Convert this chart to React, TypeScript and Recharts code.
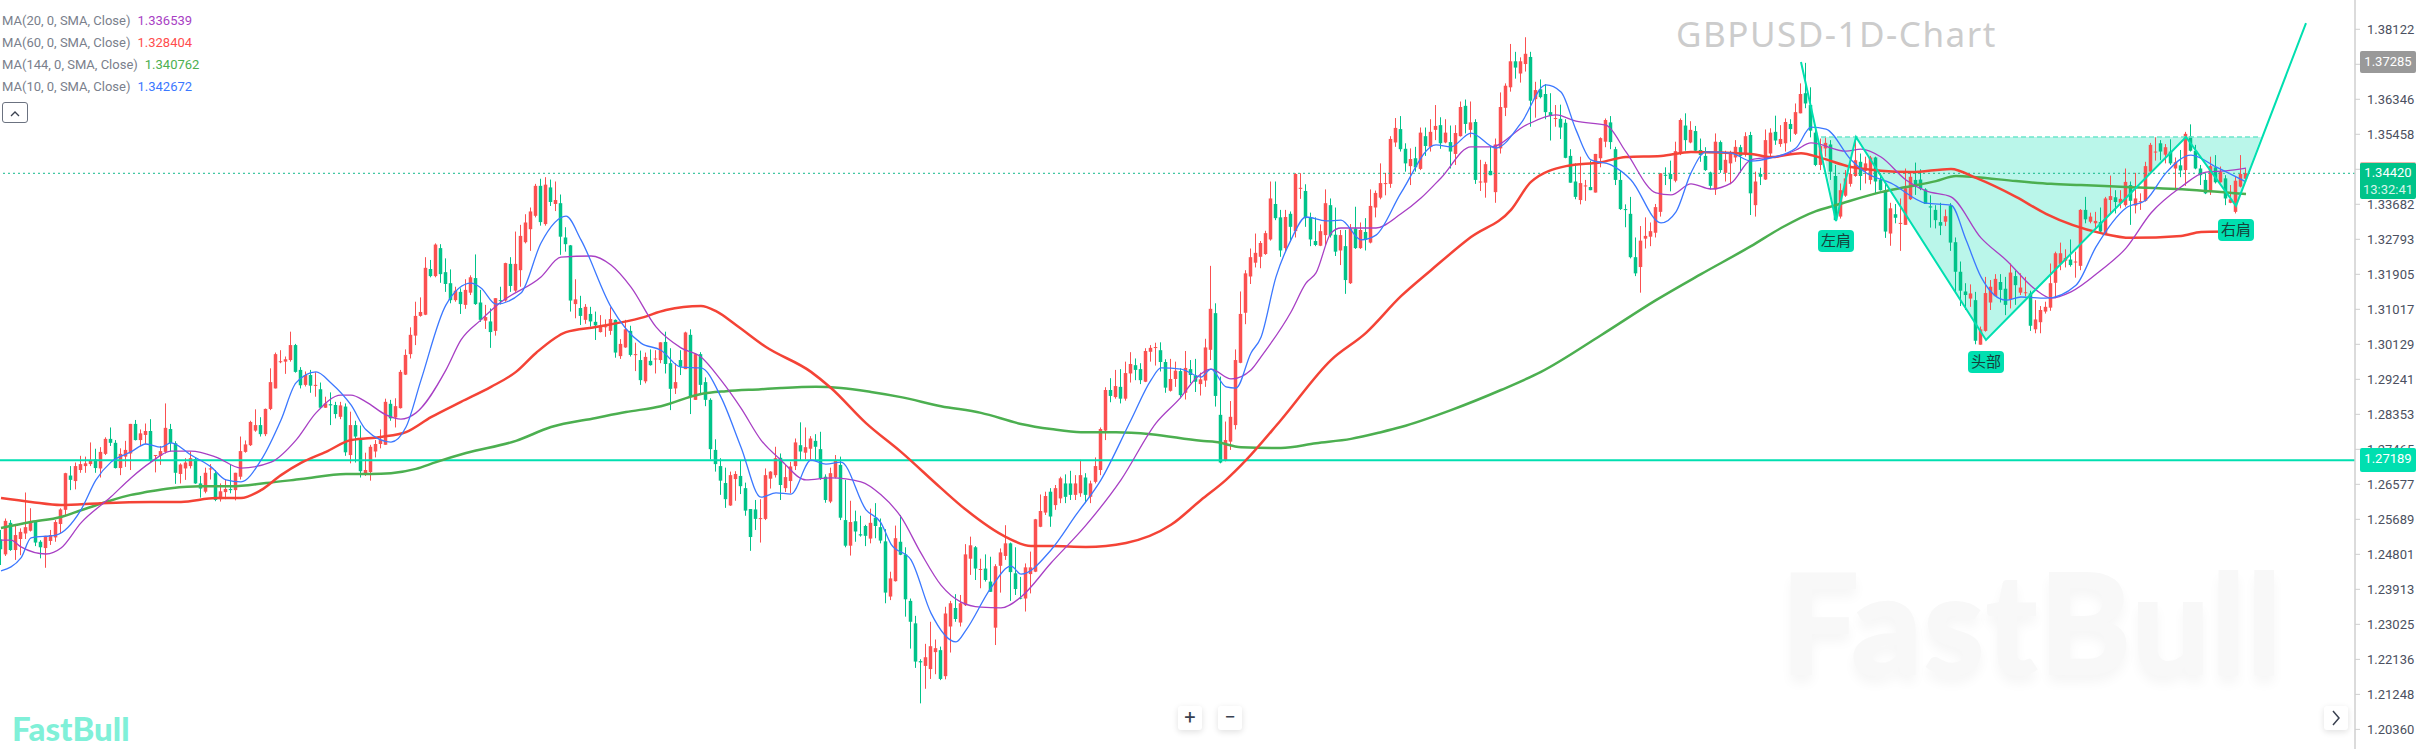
import {
  Area,
  Bar,
  ComposedChart,
  Line,
  ReferenceDot,
  ReferenceLine,
  XAxis,
  YAxis,
} from "recharts";

// all prices below are in 1/10000 (12542 = 1.2542), one entry per daily candle
const highs = [
  12542,12571,12567,12552,12546,12637,12597,12567,12516,12527,
  12542,12567,12597,12687,12704,12713,12730,12728,12764,12748,
  12752,12777,12802,12770,12749,12768,12811,12821,12797,12812,
  12823,12732,12755,12863,12811,12767,12711,12724,12741,12725,
  12679,12700,12709,12694,12660,12669,12707,12687,12779,12769,
  12819,12848,12828,12850,12952,12992,12998,12982,13045,13014,
  12955,12944,12948,12942,12916,12880,12891,12867,12867,12863,
  12842,12819,12807,12738,12758,12770,12797,12875,12872,12876,
  12948,13000,13056,13121,13132,13234,13227,13269,13267,13231,
  13203,13159,13155,13178,13188,13241,13151,13113,13104,13130,
  13159,13220,13234,13299,13316,13343,13360,13420,13433,13437,
  13431,13426,13393,13310,13265,13178,13136,13115,13108,13096,
  13087,13076,13107,13076,13026,13075,13060,13017,12997,12992,
  13000,12998,13018,13045,13003,12965,12998,13045,13051,12990,
  12993,12929,12876,12772,12724,12700,12690,12691,12719,12662,
  12595,12618,12620,12698,12691,12753,12736,12708,12715,12774,
  12815,12802,12780,12785,12791,12683,12700,12732,12728,12669,
  12616,12591,12578,12555,12596,12610,12571,12544,12436,12553,
  12580,12498,12368,12324,12214,12253,12309,12264,12246,12347,
  12362,12379,12377,12506,12525,12501,12469,12480,12474,12455,
  12495,12554,12510,12498,12423,12457,12487,12570,12632,12639,
  12648,12656,12677,12683,12692,12681,12720,12686,12667,12726,
  12802,12904,12927,12948,12950,12969,12993,12977,12965,13003,
  13011,13017,13018,12975,12976,12969,12952,12996,12973,12976,
  12941,13027,13212,13117,12931,12817,12869,13000,13147,13201,
  13256,13294,13275,13301,13426,13426,13354,13354,13350,13447,
  13447,13419,13347,13335,13317,13406,13383,13360,13303,13303,
  13318,13362,13322,13333,13406,13403,13472,13448,13541,13587,
  13592,13523,13510,13514,13563,13563,13584,13620,13589,13584,
  13568,13569,13629,13634,13629,13584,13481,13476,13514,13535,
  13652,13675,13775,13755,13741,13792,13755,13679,13685,13673,
  13650,13620,13621,13584,13508,13472,13489,13430,13479,13496,
  13538,13586,13592,13514,13455,13368,13387,13284,13313,13335,
  13322,13369,13447,13462,13479,13527,13586,13599,13579,13567,
  13535,13513,13451,13548,13530,13504,13504,13531,13519,13551,
  13552,13451,13461,13558,13561,13593,13569,13586,13584,13624,
  13675,13727,13665,13565,13535,13540,13531,13468,13421,13455,
  13472,13538,13497,13489,13491,13489,13447,13426,13372,13369,
  13383,13459,13451,13474,13457,13409,13391,13366,13372,13355,
  13371,13284,13223,13168,13165,13146,13058,13184,13176,13191,
  13191,13184,13218,13200,13193,13184,13149,13125,13110,13121,
  13218,13248,13271,13254,13279,13248,13356,13387,13347,13349,
  13360,13387,13441,13404,13404,13459,13426,13448,13396,13476,
  13524,13538,13531,13521,13533,13487,13506,13552,13571,13519,
  13468,13447,13489,13493,13464,13442,13417,13438,13493,13459,
];

const lows = [
  12453,12476,12489,12466,12478,12519,12538,12501,12470,12446,
  12504,12512,12533,12580,12643,12645,12687,12687,12704,12687,
  12675,12732,12755,12698,12681,12702,12694,12769,12755,12760,
  12715,12688,12707,12736,12741,12659,12660,12669,12698,12659,
  12624,12635,12670,12615,12614,12620,12635,12617,12670,12738,
  12755,12791,12779,12780,12846,12901,12965,12938,12969,12941,
  12901,12906,12890,12880,12850,12852,12808,12825,12823,12730,
  12711,12713,12675,12679,12667,12726,12749,12758,12819,12802,
  12850,12935,12977,13011,13083,13087,13183,13183,13169,13146,
  13117,13121,13090,13103,13138,13113,13070,13052,13004,13035,
  13114,13121,13146,13146,13159,13269,13250,13335,13314,13314,
  13364,13351,13240,13248,13096,13079,13062,13065,13058,13024,
  13043,13032,13037,12979,12976,13004,12982,12945,12910,12914,
  12959,12939,12965,12939,12846,12887,12935,12950,12836,12872,
  12889,12856,12721,12690,12631,12598,12603,12616,12633,12578,
  12489,12542,12510,12567,12647,12675,12618,12638,12635,12694,
  12719,12721,12721,12718,12669,12611,12610,12673,12567,12498,
  12477,12512,12525,12501,12508,12521,12508,12356,12364,12411,
  12478,12322,12241,12192,12102,12139,12164,12176,12161,12163,
  12231,12309,12297,12349,12428,12415,12394,12411,12385,12250,
  12383,12466,12362,12377,12366,12335,12381,12435,12549,12580,
  12550,12593,12610,12610,12618,12618,12626,12610,12610,12660,
  12681,12770,12866,12875,12863,12870,12916,12922,12912,12917,
  12969,12959,12944,12890,12893,12905,12876,12873,12914,12892,
  12883,12905,12973,12855,12711,12716,12745,12797,12965,13064,
  13166,13208,13206,13240,13276,13328,13235,13248,13273,13284,
  13382,13311,13262,13262,13262,13265,13284,13237,13214,13141,
  13166,13255,13255,13251,13269,13335,13381,13391,13410,13514,
  13502,13451,13417,13451,13455,13491,13502,13531,13509,13523,
  13459,13468,13540,13548,13538,13420,13402,13385,13442,13372,
  13497,13592,13654,13687,13677,13705,13565,13588,13637,13584,
  13530,13565,13534,13485,13423,13381,13368,13377,13404,13398,
  13462,13513,13508,13417,13354,13310,13231,13186,13144,13256,
  13262,13284,13337,13417,13401,13424,13493,13504,13523,13502,
  13476,13453,13406,13392,13448,13426,13419,13476,13448,13489,
  13341,13337,13417,13430,13489,13519,13514,13502,13527,13544,
  13599,13612,13538,13465,13455,13489,13430,13328,13332,13387,
  13413,13438,13404,13421,13419,13396,13403,13283,13263,13320,
  13250,13316,13379,13392,13404,13369,13309,13307,13290,13313,
  13250,13146,13110,13100,13108,13013,13012,13045,13100,13135,
  13119,13087,13104,13113,13138,13135,13047,13041,13041,13091,
  13098,13130,13201,13208,13210,13182,13201,13320,13320,13307,
  13296,13294,13345,13345,13358,13362,13316,13345,13354,13375,
  13447,13479,13480,13472,13468,13404,13437,13415,13502,13457,
  13417,13394,13392,13421,13423,13366,13371,13345,13411,13431,
];

const opens = [
  12518,12480,12560,12491,12519,12533,12540,12563,12512,12496,
  12514,12523,12557,12593,12680,12666,12694,12704,12709,12721,
  12698,12735,12773,12763,12699,12728,12736,12811,12770,12783,
  12793,12730,12730,12740,12798,12762,12684,12698,12704,12722,
  12660,12639,12697,12686,12620,12638,12646,12643,12677,12740,
  12757,12794,12808,12785,12849,12901,12968,12969,12973,13011,
  12948,12910,12935,12908,12899,12852,12861,12859,12829,12855,
  12732,12808,12774,12684,12689,12741,12760,12758,12862,12827,
  12851,12936,12988,13035,13085,13088,13204,13186,13257,13196,
  13168,13125,13146,13113,13144,13181,13119,13073,13071,13047,
  13125,13124,13217,13149,13201,13272,13305,13339,13415,13318,
  13411,13369,13371,13284,13264,13115,13105,13075,13090,13070,
  13044,13056,13047,13075,12983,13005,13047,12987,12973,12919,
  12971,12975,12973,13019,12965,12901,12973,12950,13037,12872,
  12988,12917,12872,12745,12704,12661,12604,12671,12679,12648,
  12595,12594,12570,12570,12672,12681,12725,12648,12666,12704,
  12757,12738,12748,12768,12747,12677,12614,12675,12707,12567,
  12502,12564,12531,12552,12520,12573,12549,12513,12373,12412,
  12512,12480,12362,12305,12209,12197,12189,12232,12237,12171,
  12297,12344,12307,12351,12469,12498,12441,12444,12411,12294,
  12451,12476,12508,12432,12370,12368,12430,12436,12550,12586,
  12639,12605,12622,12660,12660,12631,12635,12675,12626,12664,
  12694,12794,12897,12879,12905,12875,12939,12960,12950,12918,
  12994,13004,12998,12968,12895,12925,12945,12890,12950,12934,
  12912,12921,12999,13092,12834,12718,12766,12808,12966,13093,
  13185,13220,13235,13242,13279,13369,13335,13257,13344,13300,
  13408,13402,13335,13275,13263,13290,13366,13291,13251,13262,
  13168,13307,13257,13298,13271,13360,13385,13420,13420,13525,
  13559,13509,13465,13485,13458,13541,13514,13557,13569,13525,
  13526,13496,13541,13618,13557,13577,13424,13423,13453,13399,
  13510,13613,13665,13731,13700,13724,13742,13635,13660,13648,
  13602,13585,13585,13575,13491,13426,13379,13415,13412,13398,
  13485,13527,13576,13508,13430,13356,13344,13234,13209,13281,
  13286,13296,13349,13443,13445,13428,13496,13568,13525,13554,
  13506,13491,13449,13406,13526,13448,13472,13487,13513,13497,
  13544,13366,13445,13431,13497,13552,13521,13523,13572,13547,
  13599,13650,13620,13550,13468,13510,13520,13440,13337,13390,
  13420,13440,13476,13453,13430,13487,13431,13404,13294,13343,
  13319,13316,13381,13430,13431,13406,13363,13354,13323,13324,
  13365,13272,13197,13147,13129,13125,13012,13047,13119,13135,
  13171,13154,13127,13186,13144,13143,13142,13051,13069,13096,
  13106,13169,13217,13225,13228,13222,13212,13354,13324,13320,
  13323,13294,13379,13386,13372,13366,13417,13365,13374,13377,
  13451,13501,13523,13494,13502,13459,13467,13455,13541,13504,
  13459,13430,13400,13462,13424,13434,13372,13349,13413,13433,
];

const closes = [
  12493,12565,12491,12529,12537,12549,12565,12510,12498,12527,
  12529,12562,12594,12686,12669,12704,12709,12711,12719,12699,
  12740,12773,12763,12699,12735,12745,12811,12770,12787,12793,
  12718,12732,12742,12801,12762,12687,12708,12713,12724,12660,
  12647,12687,12698,12618,12640,12646,12643,12687,12742,12759,
  12816,12808,12785,12849,12917,12988,12970,12975,13011,12943,
  12909,12935,12908,12910,12852,12863,12858,12836,12858,12739,
  12808,12779,12691,12694,12753,12760,12770,12867,12825,12856,
  12943,12986,13037,13085,13095,13207,13186,13266,13191,13166,
  13125,13149,13115,13151,13183,13115,13075,13082,13044,13130,
  13124,13219,13161,13217,13288,13322,13350,13415,13323,13418,
  13374,13379,13286,13267,13124,13127,13085,13108,13071,13061,
  13058,13059,13077,12992,13014,13051,12986,12988,12922,12981,
  12960,12977,13018,12963,12900,12917,12956,13043,12880,12988,
  12910,12872,12747,12709,12667,12620,12681,12684,12653,12591,
  12524,12570,12572,12681,12690,12724,12656,12676,12703,12764,
  12741,12752,12774,12753,12673,12618,12686,12719,12573,12502,
  12562,12538,12528,12527,12560,12552,12515,12383,12419,12521,
  12479,12366,12309,12208,12206,12219,12247,12242,12164,12330,
  12356,12316,12356,12480,12503,12444,12443,12415,12385,12450,
  12485,12508,12435,12392,12368,12447,12447,12569,12590,12628,
  12576,12648,12673,12626,12631,12660,12681,12631,12660,12704,
  12798,12897,12882,12907,12875,12940,12963,12948,12922,12996,
  13004,13006,12968,12903,12925,12946,12884,12953,12935,12918,
  12924,13005,13103,12882,12713,12770,12829,12973,13090,13193,
  13234,13245,13270,13295,13383,13333,13251,13336,13311,13445,
  13410,13333,13279,13265,13300,13371,13289,13248,13290,13176,
  13307,13257,13303,13278,13364,13397,13422,13422,13534,13562,
  13508,13472,13483,13462,13550,13516,13552,13567,13523,13550,
  13502,13549,13615,13572,13576,13430,13426,13470,13442,13520,
  13615,13669,13731,13715,13731,13750,13631,13658,13640,13602,
  13592,13587,13563,13486,13423,13387,13422,13416,13404,13496,
  13536,13582,13526,13430,13356,13354,13234,13193,13276,13288,
  13300,13361,13447,13442,13432,13503,13582,13531,13557,13504,
  13493,13455,13415,13527,13455,13481,13501,13514,13491,13541,
  13396,13426,13438,13531,13550,13530,13534,13577,13559,13602,
  13648,13624,13555,13468,13516,13524,13451,13328,13404,13434,
  13445,13480,13440,13472,13487,13426,13404,13299,13358,13334,
  13321,13409,13438,13417,13408,13369,13360,13328,13314,13338,
  13271,13197,13149,13138,13142,13022,13051,13143,13159,13179,
  13151,13113,13195,13163,13157,13145,13060,13076,13100,13108,
  13168,13244,13244,13232,13214,13223,13354,13330,13337,13326,
  13299,13383,13389,13374,13382,13425,13377,13383,13376,13465,
  13519,13502,13502,13513,13472,13475,13454,13547,13504,13459,
  13442,13396,13465,13424,13450,13383,13381,13428,13445,13447,
];

// moving averages at the days where they bend
const ma144Days = [0,6,12,16,21,26,29,34,40,46,53,60,69,74,78,83,87,93,103,110,119,125,132,140,145,152,156,163,168,174,180,188,196,204,210,216,223,230,240,243,248,256,263,270,276,280,290,300,308,320,331,340,350,356,363,367,376,381,387,391,395,403,410,416,425,435,449];
const ma144Values = [12547,12562,12575,12592,12613,12631,12638,12648,12653,12653,12661,12671,12684,12684,12686,12697,12714,12737,12768,12803,12826,12841,12856,12887,12894,12899,12902,12905,12902,12892,12879,12856,12839,12811,12798,12790,12790,12785,12768,12765,12752,12750,12762,12773,12790,12803,12846,12897,12943,13036,13125,13191,13262,13308,13351,13366,13399,13412,13427,13440,13437,13427,13420,13417,13412,13407,13394];

const ma60Days = [0,6,12,20,30,36,43,48,52,56,60,65,70,76,81,86,92,98,103,107,113,119,128,133,140,143,147,153,162,166,173,180,188,193,201,206,210,217,225,234,240,245,249,256,266,273,280,286,294,302,306,313,320,325,332,338,350,354,360,364,370,382,390,395,403,409,420,426,436,440,449];
const ma60Values = [12623,12613,12605,12610,12613,12613,12623,12623,12643,12681,12712,12740,12770,12778,12790,12828,12867,12905,12943,12991,13044,13057,13080,13100,13110,13097,13062,13006,12943,12902,12813,12740,12648,12593,12524,12501,12501,12499,12509,12555,12618,12669,12719,12821,12973,13042,13135,13201,13285,13354,13425,13465,13475,13488,13491,13501,13496,13488,13498,13486,13463,13450,13458,13435,13387,13344,13295,13283,13288,13298,13300];

const ma20Days = [0,2,4,9,12,16,22,26,30,34,38,43,48,54,59,63,68,70,73,77,80,83,89,92,96,100,108,112,118,122,126,131,136,140,144,148,152,156,161,166,172,176,180,184,188,192,196,200,204,210,217,224,231,236,239,242,246,250,252,258,261,263,266,268,275,280,284,288,294,298,305,311,315,321,325,331,334,338,342,346,350,356,359,362,369,372,376,381,385,390,396,401,407,410,414,420,425,430,436,441,445,449];
const ma20Values = [12516,12516,12499,12481,12496,12560,12626,12674,12714,12742,12742,12727,12699,12714,12770,12839,12884,12884,12867,12834,12823,12839,12948,13024,13075,13120,13184,13234,13237,13214,13158,13057,13004,12981,12922,12851,12770,12719,12669,12674,12664,12631,12575,12483,12402,12359,12346,12344,12372,12458,12554,12669,12813,12879,12927,12950,12925,12948,12981,13095,13168,13194,13295,13308,13308,13344,13384,13435,13514,13514,13569,13595,13579,13569,13501,13397,13392,13420,13407,13422,13481,13491,13506,13524,13503,13508,13488,13430,13402,13387,13283,13227,13151,13130,13146,13201,13257,13346,13412,13450,13453,13460];

const ma10Days = [0,4,6,11,16,19,22,26,29,32,34,38,42,45,48,52,56,59,63,66,70,73,78,81,84,89,94,96,99,104,108,113,116,122,128,132,136,140,144,148,152,155,158,162,165,168,173,176,178,182,186,191,193,198,202,204,210,215,220,226,230,232,236,240,242,245,247,250,252,255,258,261,265,268,272,275,280,287,290,294,299,304,309,312,315,318,322,326,332,335,338,341,346,350,354,359,362,365,370,373,378,385,390,393,396,401,404,409,415,419,425,429,433,438,443,449];
const ma10Values = [12438,12471,12522,12529,12593,12669,12714,12740,12760,12752,12763,12732,12702,12669,12664,12719,12821,12915,12943,12915,12859,12796,12765,12803,12922,13113,13168,13156,13115,13143,13270,13338,13278,13108,13016,12998,12955,12953,12879,12752,12625,12636,12633,12719,12709,12714,12593,12560,12506,12466,12331,12258,12288,12395,12450,12430,12491,12580,12669,12821,12922,12953,12950,12930,12950,12905,12902,12991,13031,13184,13278,13336,13326,13328,13278,13290,13397,13519,13514,13549,13511,13574,13671,13653,13557,13481,13468,13430,13321,13349,13448,13501,13498,13478,13486,13511,13564,13559,13481,13448,13422,13371,13366,13278,13184,13125,13133,13130,13163,13260,13359,13379,13448,13493,13463,13425];

// head and shoulders drawing
const patternDays = [360,367,371,397,437,447,461];
const patternPrices = [13729,13326,13539,13024,13539,13364,13828];
const necklinePrice = 13539;
const fillDays = [364,367,371,397,437,447,452];
const fillPrices = [13539,13326,13539,13024,13539,13364,13539];

const priceTicks = [
  1.38122,1.37234,1.36346,1.35458,1.3457,1.33682,1.32793,1.31905,1.31017,1.30129,1.29241,
  1.28353,1.27465,1.26577,1.25689,1.24801,1.23913,1.23025,1.22136,1.21248,1.2036,
];

const legendRows = [
  { label: "MA(20, 0, SMA, Close)", value: "1.336539", color: "#a83fc4" },
  { label: "MA(60, 0, SMA, Close)", value: "1.328404", color: "#ff4d4d" },
  { label: "MA(144, 0, SMA, Close)", value: "1.340762", color: "#4caf50" },
  { label: "MA(10, 0, SMA, Close)", value: "1.342672", color: "#3b78ff" },
];

const candles = highs.map((high, i) => ({
  day: i,
  open: opens[i] / 10000,
  close: closes[i] / 10000,
  high: high / 10000,
  low: lows[i] / 10000,
  wick: [lows[i] / 10000, high / 10000],
}));

const toSeries = (days: number[], values: number[]) =>
  days.map((day, i) => ({ day, value: values[i] / 10000 }));

const fillSeries = fillDays.map((day, i) => ({
  day,
  band: [fillPrices[i] / 10000, necklinePrice / 10000],
}));

const UP = "#fb5050";
const DOWN = "#00c389";
const TEAL = "#00dfb0";

function CandleShape(props: any) {
  const { x, y, width, height, payload } = props;
  const { open, close, high, low } = payload;
  const cx = x + width / 2;
  const color = close >= open ? UP : DOWN;
  const perPrice = Math.abs(height) / (high - low);
  const top = y + (high - Math.max(open, close)) * perPrice;
  const bodyH = Math.max(1, Math.abs(open - close) * perPrice);
  return (
    <g>
      <rect x={cx - 0.5} y={y} width={1} height={Math.abs(height)} fill={color} />
      <rect x={cx - 1.75} y={top} width={3.5} height={bodyH} fill={color} />
    </g>
  );
}

function PatternTag(props: any) {
  const { cx, cy, text } = props;
  return (
    <g>
      <rect x={cx - 18} y={cy - 11} width={36} height={22} rx={4} fill={TEAL} />
      <text
        x={cx}
        y={cy + 5}
        textAnchor="middle"
        fontSize={15}
        fontFamily="'Noto Sans CJK SC'"
        fill="#17403a"
      >
        {text}
      </text>
    </g>
  );
}

const zoomButton: React.CSSProperties = {
  position: "absolute",
  top: 706,
  width: 24,
  height: 24,
  background: "#fff",
  borderRadius: 3,
  boxShadow: "0 2px 6px rgba(0,0,0,0.12)",
  textAlign: "center",
  lineHeight: "23px",
  fontSize: 20,
  color: "#3a4150",
};

export default function App() {
  return (
    <div
      style={{
        position: "absolute",
        left: 0,
        top: 0,
        width: 2416,
        height: 749,
        overflow: "hidden",
        background: "#fff",
        fontFamily: "Roboto, sans-serif",
      }}
    >
      <div
        style={{
          position: "absolute",
          left: 1780,
          top: 536,
          fontFamily: "Lato",
          fontWeight: 900,
          fontSize: 141,
          color: "#f8f8f8",
          textShadow: "0 8px 12px rgba(0,0,0,0.04)",
        }}
      >
        FastBull
      </div>
      <div
        style={{
          position: "absolute",
          left: 1676,
          top: 10,
          fontSize: 35,
          letterSpacing: 1.5,
          color: "#cccccc",
          fontFamily: "'Noto Sans'",
        }}
      >
        GBPUSD-1D-Chart
      </div>

      <div style={{ position: "absolute", left: 0, top: 0 }}>
        <ComposedChart
          width={2416}
          height={749}
          data={candles}
          margin={{ top: 0, right: 0, bottom: 0, left: 0 }}
        >
          <XAxis
            dataKey="day"
            type="number"
            domain={[-0.2, 470.8]}
            allowDataOverflow
            hide
          />
          <YAxis
            orientation="right"
            width={61}
            domain={[1.19862, 1.38865]}
            allowDataOverflow
            ticks={priceTicks}
            interval={0}
            tickFormatter={(v: number) => v.toFixed(5)}
            tick={{ fontSize: 13, fill: "#4b5060", fontFamily: "Roboto" }}
            tickSize={5}
            tickMargin={7}
            tickLine={{ stroke: "#cfcfcf" }}
            axisLine={{ stroke: "#cfcfcf", strokeWidth: 1.5 }}
          />
          <ReferenceLine y={1.27189} stroke={TEAL} strokeWidth={2} />
          <ReferenceLine y={1.34468} stroke="#13b98b" strokeDasharray="2 3" />

          <Line data={toSeries(ma144Days, ma144Values)} dataKey="value" stroke="#4caf50" strokeWidth={2.5} dot={false} activeDot={false} type="monotone" isAnimationActive={false} />
          <Line data={toSeries(ma60Days, ma60Values)} dataKey="value" stroke="#f44336" strokeWidth={2.5} dot={false} activeDot={false} type="monotone" isAnimationActive={false} />
          <Line data={toSeries(ma20Days, ma20Values)} dataKey="value" stroke="#a83fc4" strokeWidth={1.3} dot={false} activeDot={false} type="monotone" isAnimationActive={false} />
          <Line data={toSeries(ma10Days, ma10Values)} dataKey="value" stroke="#3b78ff" strokeWidth={1.3} dot={false} activeDot={false} type="monotone" isAnimationActive={false} />

          <Area data={fillSeries} dataKey="band" type="linear" stroke="none" fill={TEAL} fillOpacity={0.27} dot={false} activeDot={false} isAnimationActive={false} />
          <Bar dataKey="wick" barSize={4} shape={CandleShape} isAnimationActive={false} />

          <Line data={toSeries([364, 452], [necklinePrice, necklinePrice])} dataKey="value" stroke="#6ce6cb" strokeWidth={1.5} strokeDasharray="5 3" dot={false} activeDot={false} isAnimationActive={false} />
          <Line data={toSeries(patternDays, patternPrices)} dataKey="value" stroke={TEAL} strokeWidth={2} dot={false} activeDot={false} type="linear" isAnimationActive={false} />

          <ReferenceDot x={367} y={1.3275} r={0} shape={(p: any) => <PatternTag {...p} text="左肩" />} />
          <ReferenceDot x={397} y={1.2968} r={0} shape={(p: any) => <PatternTag {...p} text="头部" />} />
          <ReferenceDot x={447} y={1.3303} r={0} shape={(p: any) => <PatternTag {...p} text="右肩" />} />
        </ComposedChart>
      </div>

      <div style={{ position: "absolute", left: 2, top: 10, fontSize: 13, lineHeight: "22px", color: "#7a808c" }}>
        {legendRows.map((row) => (
          <div key={row.label}>
            {row.label}
            <span style={{ color: row.color, marginLeft: 7 }}>{row.value}</span>
          </div>
        ))}
      </div>
      <div
        style={{
          position: "absolute",
          left: 2,
          top: 102,
          width: 24,
          height: 19,
          border: "1px solid #6b7280",
          borderRadius: 3,
          textAlign: "center",
        }}
      >
        <svg width="12" height="8" style={{ marginTop: 5 }}>
          <path d="M2 6 L6 2 L10 6" fill="none" stroke="#3a4150" strokeWidth="1.3" />
        </svg>
      </div>

      <div style={{ position: "absolute", left: 2360, top: 51, width: 56, height: 22, background: "#999", color: "#fff", borderRadius: 2, fontSize: 13, lineHeight: "22px", textAlign: "center" }}>
        1.37285
      </div>
      <div style={{ position: "absolute", left: 2360, top: 162, width: 56, height: 37, background: "#00c389", borderTop: "1px solid #e9b5ab", color: "#fff", borderRadius: 2, fontSize: 13, lineHeight: "17px", textAlign: "center", paddingTop: 1, boxSizing: "border-box" }}>
        <div>1.34420</div>
        <div style={{ color: "#d5f5ea" }}>13:32:41</div>
      </div>
      <div style={{ position: "absolute", left: 2360, top: 448, width: 56, height: 24, background: TEAL, color: "#fff", borderRadius: 2, fontSize: 13, lineHeight: "22px", textAlign: "center" }}>
        1.27189
      </div>

      <div style={{ ...zoomButton, left: 1178 }}>+</div>
      <div style={{ ...zoomButton, left: 1218 }}>−</div>
      <div style={{ ...zoomButton, left: 2324 }}>
        <svg width="10" height="16" style={{ marginTop: 4 }}>
          <path d="M2 1 L8 8 L2 15" fill="none" stroke="#3a4150" strokeWidth="1.5" />
        </svg>
      </div>

      <div style={{ position: "absolute", left: 12, top: 708, fontFamily: "Lato", fontWeight: 900, fontSize: 33, color: "#80f0d8" }}>
        FastBull
      </div>
    </div>
  );
}
